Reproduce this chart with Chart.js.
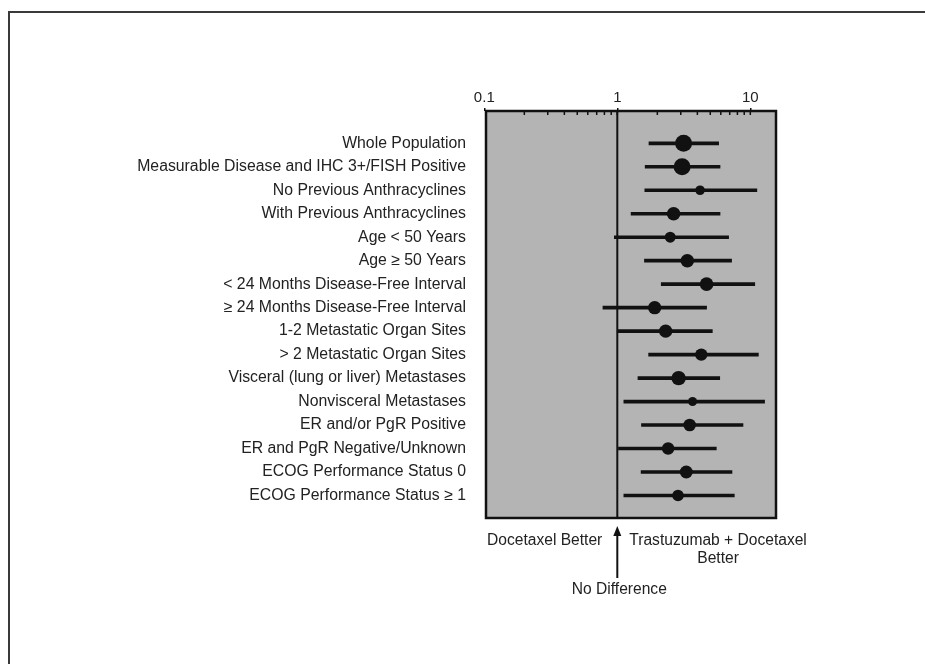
<!DOCTYPE html>
<html>
<head>
<meta charset="utf-8">
<script src="https://cdn.jsdelivr.net/npm/chart.js@4/dist/chart.umd.min.js"></script>
<style>
  html, body { margin: 0; padding: 0; background: #ffffff; }
  #wrap { position: relative; width: 925px; height: 664px; overflow: hidden; }
  #frame { position: absolute; left: 8px; top: 11px; width: 1000px; height: 1000px;
           border-left: 2px solid #3a3a3a; border-top: 2px solid #3a3a3a; }
  canvas { position: absolute; left: 0; top: 0; }
</style>
</head>
<body>
<div id="wrap">
  <div id="frame"></div>
  <canvas id="c" width="925" height="664"></canvas>
</div>
<script>
// ---- data ----
const categories = [
  'Whole Population',
  'Measurable Disease and IHC 3+/FISH Positive',
  'No Previous Anthracyclines',
  'With Previous Anthracyclines',
  'Age < 50 Years',
  'Age \u2265 50 Years',
  '< 24 Months Disease-Free Interval',
  '\u2265 24 Months Disease-Free Interval',
  '1-2 Metastatic Organ Sites',
  '> 2 Metastatic Organ Sites',
  'Visceral (lung or liver) Metastases',
  'Nonvisceral Metastases',
  'ER and/or PgR Positive',
  'ER and PgR Negative/Unknown',
  'ECOG Performance Status 0',
  'ECOG Performance Status \u2265 1'
];
const estimate = [3.15, 3.07, 4.19, 2.65, 2.50, 3.36, 4.69, 1.91, 2.31, 4.28, 2.89, 3.68, 3.50, 2.41, 3.30, 2.86];
const ciLower  = [1.73, 1.62, 1.61, 1.27, 0.95, 1.60, 2.14, 0.78, 1.00, 1.72, 1.43, 1.12, 1.52, 1.02, 1.51, 1.12];
const ciUpper  = [5.78, 5.92, 11.2, 5.92, 6.87, 7.23, 10.8, 4.69, 5.18, 11.5, 5.89, 12.8, 8.81, 5.55, 7.28, 7.58];
const weightMarker = [8.5, 8.5, 4.8, 6.8, 5.5, 6.8, 6.8, 6.7, 6.7, 6.2, 7.2, 4.5, 6.3, 6.2, 6.5, 5.8];
const xTickLabels = [0.1, 1, 10];
const xMinorTicks = [0.2, 0.3, 0.4, 0.5, 0.6, 0.7, 0.8, 0.9, 2, 3, 4, 5, 6, 7, 8, 9];
const noEffectValue = 1;
const leftNote = 'Docetaxel Better';
const rightNote = ['Trastuzumab + Docetaxel', 'Better'];
const arrowNote = 'No Difference';

const FONT = '"Liberation Sans", Arial, Helvetica, sans-serif';
const TEXT = '#222222';
const INK = '#111111';

const rows = categories.map((_, i) => i + 1);

const decor = {
  id: 'decor',
  beforeDraw(chart) {
    const { ctx, chartArea: a } = chart;
    ctx.save();
    ctx.fillStyle = '#b4b4b4';
    ctx.fillRect(a.left, a.top, a.right - a.left, a.bottom - a.top);
    ctx.restore();
  },
  beforeDatasetsDraw(chart) {
    const { ctx, chartArea: a, scales: { x } } = chart;
    const px = x.getPixelForValue(noEffectValue);
    ctx.save();
    ctx.strokeStyle = INK;
    ctx.lineWidth = 2;
    ctx.beginPath();
    ctx.moveTo(px, a.top);
    ctx.lineTo(px, a.bottom);
    ctx.stroke();
    ctx.restore();
  },
  afterDatasetsDraw(chart) {
    const { ctx, chartArea: a, scales: { x } } = chart;
    ctx.save();
    // minor ticks pointing inward
    ctx.strokeStyle = INK;
    ctx.lineWidth = 1.5;
    ctx.beginPath();
    xMinorTicks.forEach(v => {
      const p = x.getPixelForValue(v);
      ctx.moveTo(p, a.top);
      ctx.lineTo(p, a.top + 4);
    });
    xTickLabels.forEach(v => {
      const p = x.getPixelForValue(v);
      if (p > a.left + 2 && p < a.right - 2) {
        ctx.moveTo(p, a.top);
        ctx.lineTo(p, a.top + 4);
      }
    });
    ctx.stroke();
    // plot box
    ctx.lineWidth = 2.5;
    ctx.strokeStyle = INK;
    ctx.strokeRect(a.left, a.top, a.right - a.left, a.bottom - a.top);

    // annotations below
    const px = x.getPixelForValue(noEffectValue);
    ctx.fillStyle = TEXT;
    ctx.font = '15.6px ' + FONT;
    ctx.textBaseline = 'middle';
    ctx.textAlign = 'right';
    ctx.fillText(leftNote, px - 15, a.bottom + 23);
    ctx.textAlign = 'center';
    const w = ctx.measureText(rightNote[0]).width;
    const cx = px + 12 + w / 2;
    ctx.fillText(rightNote[0], cx, a.bottom + 23);
    ctx.fillText(rightNote[1], cx, a.bottom + 41);
    ctx.fillText(arrowNote, px + 2, a.bottom + 72);

    // arrow
    ctx.fillStyle = INK;
    ctx.strokeStyle = INK;
    ctx.lineWidth = 2;
    ctx.beginPath();
    ctx.moveTo(px, a.bottom + 15);
    ctx.lineTo(px, a.bottom + 60);
    ctx.stroke();
    ctx.beginPath();
    ctx.moveTo(px, a.bottom + 8);
    ctx.lineTo(px - 4, a.bottom + 18);
    ctx.lineTo(px + 4, a.bottom + 18);
    ctx.closePath();
    ctx.fill();
    ctx.restore();
  }
};

new Chart(document.getElementById('c'), {
  type: 'bar',
  data: {
    datasets: [
      {
        type: 'bar',
        indexAxis: 'y',
        data: rows.map((r, i) => ({ y: r, x: [ciLower[i], ciUpper[i]] })),
        backgroundColor: INK,
        borderWidth: 0,
        barThickness: 3,
        xAxisID: 'x',
        yAxisID: 'y'
      },
      {
        type: 'scatter',
        data: rows.map((r, i) => ({ x: estimate[i], y: r })),
        backgroundColor: INK,
        borderWidth: 0,
        pointRadius: weightMarker,
        pointHoverRadius: weightMarker,
        showLine: false,
        xAxisID: 'x',
        yAxisID: 'y'
      }
    ]
  },
  options: {
    responsive: false,
    animation: false,
    indexAxis: 'y',
    layout: { padding: { left: 0, top: 0, right: 149, bottom: 146 } },
    plugins: { legend: { display: false }, tooltip: { enabled: false } },
    scales: {
      x: {
        type: 'logarithmic',
        position: 'top',
        offset: false,
        min: 0.103,
        max: 15.6,
        afterBuildTicks: s => { s.ticks = xTickLabels.map(v => ({ value: v, major: true })); },
        afterFit: s => { s.height = 111; },
        ticks: {
          autoSkip: false,
          maxRotation: 0,
          padding: 1,
          color: TEXT,
          font: { family: FONT, size: 15 },
          callback: v => String(v)
        },
        grid: { drawOnChartArea: false, drawTicks: true, tickLength: 3, color: INK, lineWidth: 1.5, offset: false },
        border: { display: false }
      },
      y: {
        type: 'linear',
        reverse: true,
        offset: false,
        min: -0.376,
        max: 16.96,
        afterBuildTicks: s => { s.ticks = rows.map(v => ({ value: v })); },
        afterFit: s => { s.width = 486; },
        ticks: {
          autoSkip: false,
          padding: 20,
          color: TEXT,
          font: { family: FONT, size: 15.8 },
          callback: v => categories[v - 1]
        },
        grid: { display: false, drawTicks: false, tickLength: 0, offset: false },
        border: { display: false }
      }
    }
  },
  plugins: [decor]
});
</script>
</body>
</html>
